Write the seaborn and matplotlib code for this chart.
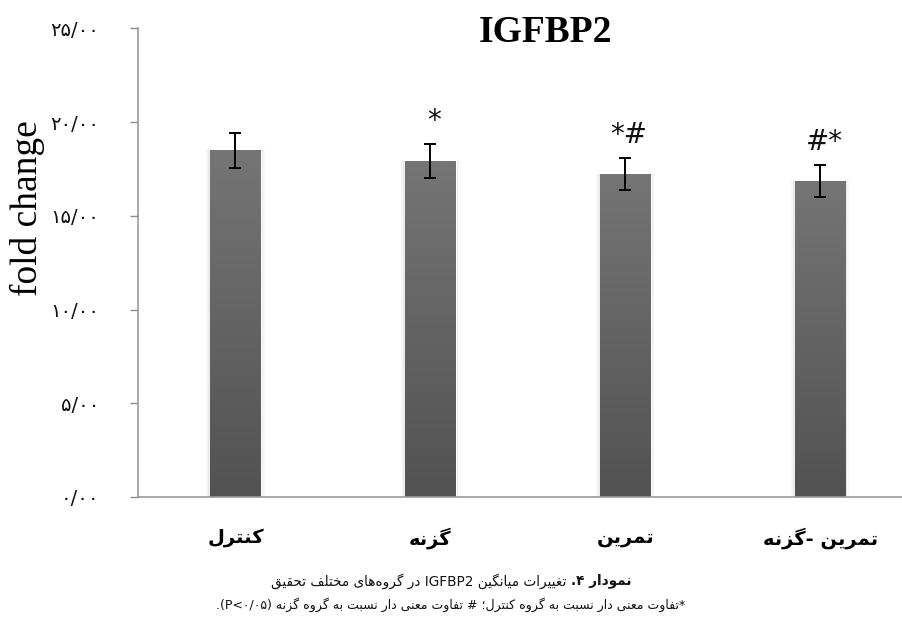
import re
import numpy as np
import pandas as pd
import matplotlib
matplotlib.use("Agg")
import matplotlib.pyplot as plt
import seaborn as sns
from matplotlib.patches import Rectangle
from matplotlib.colors import LinearSegmentedColormap

# ---------------- data ----------------
categories = ["کنترل", "گزنه", "تمرین", "تمرین -گزنه"]
means = [18.50, 17.92, 17.23, 16.86]
sem = [0.93, 0.91, 0.87, 0.85]
marks = ["", "*", "*#", "#*"]
yticks = [0, 5, 10, 15, 20, 25]
ytick_labels = ["۰/۰۰", "۵/۰۰", "۱۰/۰۰", "۱۵/۰۰", "۲۰/۰۰", "۲۵/۰۰"]
title = "IGFBP2"
ylabel = "fold change"
caption_bold = "نمودار ۴."
caption_1 = "تغییرات میانگین IGFBP2 در گروه‌های مختلف تحقیق"
caption_2 = "*تفاوت معنی دار نسبت به گروه کنترل؛ # تفاوت معنی دار نسبت به گروه گزنه (P<۰/۰۵)."

# ---------------- minimal Persian shaping + bidi ----------------
_F = {
    "ا": ("\uFE8D", "\uFE8E", None, None),
    "ب": ("\uFE8F", "\uFE90", "\uFE91", "\uFE92"),
    "ت": ("\uFE95", "\uFE96", "\uFE97", "\uFE98"),
    "ح": ("\uFEA1", "\uFEA2", "\uFEA3", "\uFEA4"),
    "خ": ("\uFEA5", "\uFEA6", "\uFEA7", "\uFEA8"),
    "د": ("\uFEA9", "\uFEAA", None, None),
    "ر": ("\uFEAD", "\uFEAE", None, None),
    "ز": ("\uFEAF", "\uFEB0", None, None),
    "س": ("\uFEB1", "\uFEB2", "\uFEB3", "\uFEB4"),
    "ع": ("\uFEC9", "\uFECA", "\uFECB", "\uFECC"),
    "غ": ("\uFECD", "\uFECE", "\uFECF", "\uFED0"),
    "ف": ("\uFED1", "\uFED2", "\uFED3", "\uFED4"),
    "ق": ("\uFED5", "\uFED6", "\uFED7", "\uFED8"),
    "ل": ("\uFEDD", "\uFEDE", "\uFEDF", "\uFEE0"),
    "م": ("\uFEE1", "\uFEE2", "\uFEE3", "\uFEE4"),
    "ن": ("\uFEE5", "\uFEE6", "\uFEE7", "\uFEE8"),
    "ه": ("\uFEE9", "\uFEEA", "\uFEEB", "\uFEEC"),
    "و": ("\uFEED", "\uFEEE", None, None),
    "ی": ("\uFBFC", "\uFBFD", "\uFBFE", "\uFBFF"),
    "ک": ("\uFB8E", "\uFB8F", "\uFB90", "\uFB91"),
    "گ": ("\uFB92", "\uFB93", "\uFB94", "\uFB95"),
}
_MIRROR = {"(": ")", ")": "(", "<": ">", ">": "<"}


def _shape(s):
    out = []
    for i, c in enumerate(s):
        if c not in _F:
            if c != "\u200c":
                out.append(c)
            continue
        p = s[i - 1] if i > 0 else None
        n = s[i + 1] if i + 1 < len(s) else None
        jp = p in _F and _F[p][2] is not None
        jn = n in _F and _F[c][2] is not None
        iso, fin, ini, med = _F[c]
        out.append(med if (jp and jn) else fin if jp else ini if jn else iso)
    return out


def visual(s):
    parts = re.split(r"([A-Za-z][A-Za-z0-9<>/۰-۹]*)", s)
    segs = []
    for k, part in enumerate(parts):
        if not part:
            continue
        if k % 2 == 1:
            segs.append(part)
        else:
            ch = _shape(part)[::-1]
            segs.append("".join(_MIRROR.get(c, c) for c in ch))
    return "".join(segs[::-1])


# ---------------- figure ----------------
sns.set_theme(style="white")
plt.rcParams["font.family"] = ["DejaVu Sans"]

W, H = 902, 625
fig = plt.figure(figsize=(W / 100, H / 100), dpi=100)
ax = fig.add_axes([138 / W, 1 - 497 / H, (W - 138) / W, (497 - 28.3) / H])

labels = [visual(c) for c in categories]
df = pd.DataFrame({"group": labels, "value": means})
sns.barplot(data=df, x="group", y="value", order=labels, color="#666666",
            width=0.26, errorbar=None, ax=ax, zorder=2)

# gradient fill + faint shadow
grad = np.linspace(0, 1, 256).reshape(-1, 1)
cmap = LinearSegmentedColormap.from_list("g", ["#525252", "#757575"])
for patch in ax.patches:
    x0, y0 = patch.get_x(), patch.get_y()
    w, h = patch.get_width(), patch.get_height()
    for dx, a in [(0.02, 0.035), (0.01, 0.05)]:
        ax.add_patch(Rectangle((x0 - dx, y0), w + 2 * dx, h,
                               facecolor="#000000", alpha=a, lw=0, zorder=1))
    im = ax.imshow(grad, extent=[x0, x0 + w, y0, y0 + h], origin="lower",
                   cmap=cmap, aspect="auto", zorder=2.5)
    im.set_clip_path(patch)

ax.errorbar(x=np.arange(len(means)), y=means, yerr=sem, fmt="none",
            ecolor="black", elinewidth=1.4, capsize=4.5, capthick=1.4, zorder=4)

for i, m in enumerate(marks):
    if m:
        ax.text(i + 0.02, means[i] + sem[i] + 1.2, m, ha="center", va="center",
                fontsize=20, color="#111111", zorder=5)

ax.set_xlim(-0.5, 3.42)
ax.set_ylim(0, 25)
ax.set_yticks(yticks)
ax.set_yticklabels(ytick_labels, fontsize=14, color="#111111")
ax.set_xlabel("")
ax.set_ylabel("")
ax.tick_params(axis="y", length=6, width=1, color="#8c8c8c", pad=22, left=True)
ax.tick_params(axis="x", length=0, pad=22)
for t in ax.get_xticklabels():
    t.set_fontweight("bold")
    t.set_fontsize(14)
    t.set_color("#000000")
for s in ["top", "right"]:
    ax.spines[s].set_visible(False)
for s in ["left", "bottom"]:
    ax.spines[s].set_color("#9a9a9a")
    ax.spines[s].set_linewidth(1.2)
ax.set_facecolor("white")

fig.text(545 / W, 1 - 33 / H, title, ha="center", va="center",
         fontsize=27, fontweight="bold", color="black", family=["Liberation Serif"])
fig.text(27 / W, 1 - 208 / H, ylabel, ha="center", va="center", rotation=90,
         fontsize=27, color="black", family=["Liberation Serif"])

# captions
r = fig.canvas.get_renderer()
t_reg = fig.text(0, 1 - 581 / H, visual(caption_1), ha="left", va="center",
                 fontsize=9.8, color="#111111")
t_bold = fig.text(0, 1 - 581 / H, visual(caption_bold), ha="left", va="center",
                  fontsize=9.8, fontweight="bold", color="#111111")
w_reg = t_reg.get_window_extent(r).width
w_bold = t_bold.get_window_extent(r).width
gap = 5
x_start = (W - (w_reg + gap + w_bold)) / 2
t_reg.set_x(x_start / W)
t_bold.set_x((x_start + w_reg + gap) / W)

fig.text(0.5, 1 - 605 / H, visual(caption_2), ha="center", va="center",
         fontsize=9.0, color="#111111")

fig.savefig("out.png", dpi=100, facecolor="white")
